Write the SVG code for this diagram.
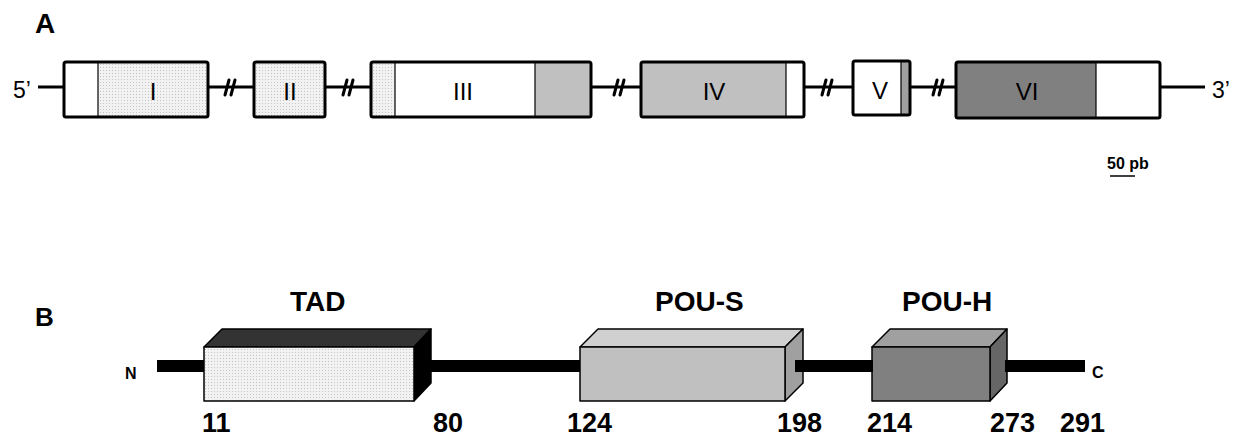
<svg xmlns="http://www.w3.org/2000/svg" width="1242" height="438" viewBox="0 0 1242 438">
<style>
.lbl{font-family:"Liberation Sans",Arial,sans-serif;font-weight:bold;fill:#000}
.rom{font-family:"Liberation Sans",Arial,sans-serif;font-size:24px;fill:#000;text-anchor:middle}
.end{font-family:"Liberation Sans",Arial,sans-serif;font-size:23px;fill:#000}
.ex{stroke:#000;stroke-width:3;stroke-linejoin:round}
.div{stroke:#000;stroke-width:1.2}
.wire{stroke:#000;stroke-width:3;fill:none}
.brk{stroke:#000;stroke-width:3;stroke-linecap:round}
.dom{stroke:#000;stroke-width:1.5;stroke-linejoin:round}
.prot{stroke:#000;stroke-width:12;fill:none}
.num{font-family:"Liberation Sans",Arial,sans-serif;font-weight:bold;font-size:27px;fill:#000}
</style>
<defs>
<pattern id="dots" width="3" height="3" patternUnits="userSpaceOnUse">
<rect width="3" height="3" fill="#f2f2f2"/>
<rect x="1" y="1" width="1" height="1" fill="#c4c4c4"/>
</pattern>
</defs>
<text class="lbl" x="35" y="33" font-size="28">A</text>
<text class="lbl" x="35" y="326" font-size="26">B</text>
<g id="connectors">
<line class="wire" x1="38" y1="87" x2="64" y2="87"/>
<line class="wire" x1="208" y1="87" x2="254" y2="87"/>
<line class="wire" x1="325" y1="87" x2="371" y2="87"/>
<line class="wire" x1="591" y1="87" x2="641" y2="87"/>
<line class="wire" x1="804" y1="87" x2="853" y2="87"/>
<line class="wire" x1="910" y1="87" x2="956" y2="87"/>
<line class="wire" x1="1160" y1="87" x2="1205" y2="87"/>
<g id="breaks">
<line class="brk" x1="225" y1="95" x2="229" y2="80"/><line class="brk" x1="231" y1="95" x2="235" y2="80"/>
<line class="brk" x1="343" y1="95" x2="347" y2="80"/><line class="brk" x1="349" y1="95" x2="353" y2="80"/>
<line class="brk" x1="614" y1="95" x2="618" y2="80"/><line class="brk" x1="620" y1="95" x2="624" y2="80"/>
<line class="brk" x1="822" y1="95" x2="826" y2="80"/><line class="brk" x1="828" y1="95" x2="832" y2="80"/>
<line class="brk" x1="933" y1="95" x2="937" y2="80"/><line class="brk" x1="939" y1="95" x2="943" y2="80"/>
</g>
<line class="prot" x1="157" y1="366" x2="205" y2="366"/>
<line class="prot" x1="414" y1="366" x2="581" y2="366"/>
</g>
<text class="end" x="13" y="98">5’</text>
<text class="end" x="1212" y="98">3’</text>
<g id="exon1">
<rect x="64" y="62" width="144" height="55" fill="#fff"/>
<rect x="98" y="62" width="110" height="55" fill="url(#dots)"/>
<line class="div" x1="98" y1="62" x2="98" y2="117"/>
<rect class="ex" x="64" y="62" width="144" height="55" rx="2" fill="none"/>
<text class="rom" x="153" y="100">I</text>
</g>
<g id="exon2">
<rect class="ex" x="254" y="62" width="71" height="55" rx="2" fill="url(#dots)"/>
<text class="rom" x="290" y="100">II</text>
</g>
<g id="exon3">
<rect x="371" y="62" width="220" height="55" fill="#fff"/>
<rect x="371" y="62" width="24" height="55" fill="url(#dots)"/>
<rect x="535" y="62" width="56" height="55" fill="#c0c0c0"/>
<line class="div" x1="395" y1="62" x2="395" y2="117"/>
<line class="div" x1="535" y1="62" x2="535" y2="117"/>
<rect class="ex" x="371" y="62" width="220" height="55" rx="2" fill="none"/>
<text class="rom" x="463" y="100">III</text>
</g>
<g id="exon4">
<rect x="641" y="62" width="163" height="55" fill="#fff"/>
<rect x="641" y="62" width="145" height="55" fill="#c0c0c0"/>
<line class="div" x1="786" y1="62" x2="786" y2="117"/>
<rect class="ex" x="641" y="62" width="163" height="55" rx="2" fill="none"/>
<text class="rom" x="714" y="100">IV</text>
</g>
<g id="exon5">
<rect x="853" y="61" width="57" height="54" fill="#fff"/>
<rect x="901" y="61" width="9" height="54" fill="#a0a0a0"/>
<line class="div" x1="901" y1="61" x2="901" y2="115"/>
<rect class="ex" x="853" y="61" width="57" height="54" rx="2" fill="none"/>
<text class="rom" x="880" y="99">V</text>
</g>
<g id="exon6">
<rect x="956" y="62" width="204" height="56" fill="#fff"/>
<rect x="956" y="62" width="140" height="56" fill="#808080"/>
<line class="div" x1="1096" y1="62" x2="1096" y2="118"/>
<rect class="ex" x="956" y="62" width="204" height="56" rx="2" fill="none"/>
<text class="rom" x="1027" y="100">VI</text>
</g>
<g id="scale">
<text class="lbl" x="1107" y="169" font-size="16">50 pb</text>
<line x1="1110" y1="176" x2="1135" y2="176" stroke="#000" stroke-width="1.5"/>
</g>
<text class="lbl" x="125" y="379" font-size="16">N</text>
<text class="lbl" x="1092" y="378" font-size="16">C</text>
<g id="tad">
<polygon class="dom" points="204,347 222,329 431,329 414,347" fill="#333"/>
<polygon class="dom" points="414,347 431,329 431,383 414,401" fill="#000"/>
<rect class="dom" x="204" y="347" width="210" height="54" fill="url(#dots)"/>
<text class="lbl" x="290" y="311" font-size="28">TAD</text>
</g>
<g id="pous">
<polygon class="dom" points="580,347 598,329 803,329 785,347" fill="#d0d0d0"/>
<polygon class="dom" points="785,347 803,329 803,383 785,401" fill="#a0a0a0"/>
<rect class="dom" x="580" y="347" width="205" height="54" fill="#c0c0c0"/>
<text class="lbl" x="655" y="311" font-size="28">POU-S</text>
</g>
<g id="pouh">
<polygon class="dom" points="872,347 890,329 1007,329 990,347" fill="#a0a0a0"/>
<polygon class="dom" points="990,347 1007,329 1007,383 990,401" fill="#666"/>
<rect class="dom" x="872" y="347" width="118" height="54" fill="#808080"/>
<text class="lbl" x="902" y="311" font-size="28">POU-H</text>
</g>
<g id="protein-links">
<line class="prot" x1="795" y1="366" x2="873" y2="366"/>
<line class="prot" x1="1005" y1="366" x2="1085" y2="366"/>
</g>
<g id="positions">
<text class="num" x="202" y="432">11</text>
<text class="num" x="433" y="432">80</text>
<text class="num" x="567" y="432">124</text>
<text class="num" x="777" y="432">198</text>
<text class="num" x="867" y="432">214</text>
<text class="num" x="990" y="432">273</text>
<text class="num" x="1060" y="432">291</text>
</g>
</svg>
